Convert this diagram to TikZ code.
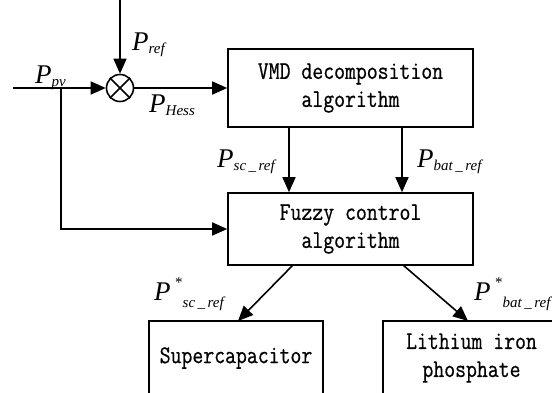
\documentclass[tikz,border=0pt]{standalone}
\usepackage{fontspec}
\usepackage{amsmath}
\setmainfont{Liberation Serif}
\newfontfamily\boxfont[FakeStretch=0.83,FakeBold=0.6]{Latin Modern Mono}
\usetikzlibrary{arrows.meta}

% power label: P with a lowered subscript
\newcommand\plab[1]{\textit{P}\raisebox{-3pt}{\fontsize{15}{15}\selectfont\itshape #1}}
% power label with a star and a lowered subscript
\newcommand\pslab[1]{\textit{P}\,\raisebox{13pt}{\fontsize{15}{15}\selectfont *}\raisebox{-7pt}{\fontsize{15}{15}\selectfont\itshape #1}}

\tikzset{
  blk/.style={draw, line width=1.6pt, inner sep=0pt, align=center,
    font=\boxfont\fontsize{25.5}{28}\selectfont},
  arr/.style={line width=1.6pt, -{Triangle[length=15pt,width=13pt]}},
  wire/.style={line width=1.6pt},
  lab/.style={inner sep=0pt, anchor=base west,
    font=\fontsize{27}{27}\selectfont},
}

\begin{document}
\begin{tikzpicture}[x=1pt,y=-1pt]
  \useasboundingbox (0,0) rectangle (552,392);
  \clip (0,0) rectangle (552,392);

  % blocks
  \node[blk, minimum width=245pt, minimum height=78pt] (vmd) at (350.5,88)
    {VMD decomposition\\algorithm};
  \node[blk, minimum width=245pt, minimum height=72pt] (fuzzy) at (350.5,229)
    {Fuzzy control\\algorithm};
  \node[blk, minimum width=174pt, minimum height=74pt] (sc) at (236,358)
    {Supercapacitor};
  \node[blk, minimum width=177pt, minimum height=74pt] (bat) at (471.5,358)
    {Lithium iron\\phosphate};

  % multiplier
  \node[draw, circle, line width=1.6pt, minimum size=27pt, inner sep=0pt] (mul) at (120,88) {};
  \draw[wire] (mul.north west) -- (mul.south east);
  \draw[wire] (mul.north east) -- (mul.south west);

  % free ends and tap points
  \coordinate (in) at (13,88);
  \coordinate (top) at (120,0);
  \coordinate (br) at (61,88);
  \coordinate (xa) at (289,0);
  \coordinate (xb) at (402,0);
  \coordinate (fa) at (293,265);
  \coordinate (fb) at (403,265);
  \coordinate (sa) at (238,321);
  \coordinate (sb) at (468,321);

  % connectors
  \draw[arr] (in) -- (mul.west);
  \draw[arr] (top) -- (mul.north);
  \draw[arr] (mul.east) -- (vmd.west);
  \draw[arr] (br) |- (fuzzy.west);
  \draw[arr] (vmd.south -| xa) -- (fuzzy.north -| xa);
  \draw[arr] (vmd.south -| xb) -- (fuzzy.north -| xb);
  \draw[arr] (fa) -- (sa);
  \draw[arr] (fb) -- (sb);

  % signal labels
  \node[lab] (lpv) at (35,83) {\plab{pv}};
  \node[lab] (lref) at (132,50) {\plab{ref}};
  \node[lab] (lhess) at (149,112) {\plab{Hess}};
  \node[lab] (lsc) at (217,167) {\plab{sc\,\_\,ref}};
  \node[lab] (lbat) at (417,167) {\plab{bat\,\_\,ref}};
  \node[lab] (lssc) at (154,300) {\pslab{sc\,\_\,ref}};
  \node[lab] (lsbat) at (474,300) {\pslab{bat\,\_\,ref}};
\end{tikzpicture}
\end{document}
